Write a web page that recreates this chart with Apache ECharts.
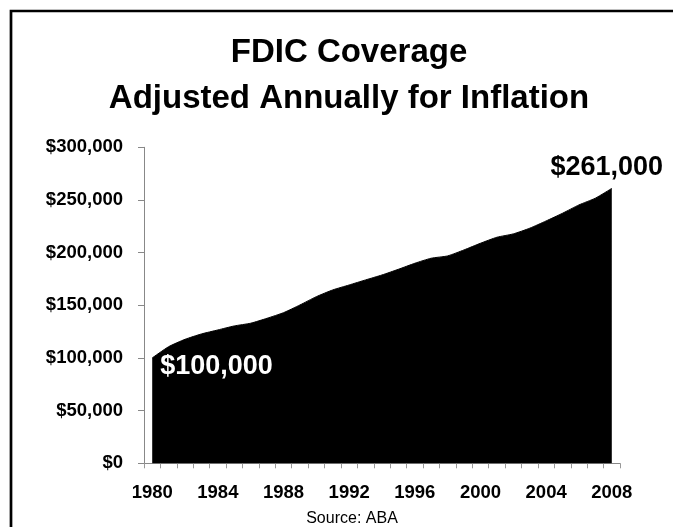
<!DOCTYPE html>
<html>
<head>
<meta charset="utf-8">
<script src="https://cdn.jsdelivr.net/npm/echarts@6/dist/echarts.min.js"></script>
<style>
html,body{margin:0;padding:0;background:#fff;}
#chart{width:673px;height:527px;}
</style>
</head>
<body>
<div id="chart"></div>
<script>
const years = ['1980','1981','1982','1983','1984','1985','1986','1987','1988','1989','1990','1991','1992','1993','1994','1995','1996','1997','1998','1999','2000','2001','2002','2003','2004','2005','2006','2007','2008'];
const coverage = [100000,110700,117700,122800,126600,130400,133000,137700,143000,150300,158200,164600,169300,174100,178800,184200,189900,194700,196900,202600,208900,214600,217800,223200,230100,237400,245300,251700,261000];
const yTicks = [0,50000,100000,150000,200000,250000,300000];
const titleLines = ['FDIC Coverage','Adjusted Annually for Inflation'];
const sourceText = 'Source: ABA';

const FONT = '"Liberation Sans", Arial, sans-serif';
const money = v => '$' + Math.round(v).toLocaleString('en-US');

const chart = echarts.init(document.getElementById('chart'));
chart.setOption({
  backgroundColor: '#fff',
  animation: false,
  title: [{
    text: titleLines.join('\n'),
    left: 344, top: 25, textAlign: 'center',
    textStyle: {fontFamily: FONT, fontWeight: 'bold', fontSize: 33, lineHeight: 46, color: '#000'}
  }, {
    text: sourceText,
    left: 347, top: 506, textAlign: 'center',
    textStyle: {fontFamily: FONT, fontWeight: 'normal', fontSize: 16, color: '#000'}
  }],
  graphic: [{
    type: 'rect', silent: true,
    shape: {x: 11, y: 11, width: 700, height: 600},
    style: {fill: 'none', stroke: '#000', lineWidth: 2.7}
  }],
  grid: {left: 144, right: 53, top: 147.3, bottom: 63.7, containLabel: false},
  xAxis: {
    type: 'category', data: years, boundaryGap: true,
    axisLine: {lineStyle: {color: '#888', width: 1}},
    axisTick: {show: true, interval: 0, length: 5, lineStyle: {color: '#999'}},
    axisLabel: {interval: 3, margin: 20, fontFamily: FONT, fontWeight: 'bold', fontSize: 18.5, color: '#000'},
    splitLine: {show: false}
  },
  yAxis: {
    type: 'value', min: yTicks[0], max: yTicks[yTicks.length-1], interval: yTicks[1]-yTicks[0],
    axisLine: {show: true, lineStyle: {color: '#888', width: 1}},
    axisTick: {show: true, length: 6, lineStyle: {color: '#888'}},
    axisLabel: {margin: 21, fontFamily: FONT, fontWeight: 'bold', fontSize: 18.5, color: '#000', formatter: money},
    splitLine: {show: false}
  },
  series: [{
    type: 'line', data: coverage, smooth: 0.2,
    symbol: 'none',
    lineStyle: {color: '#000', width: 1},
    areaStyle: {color: '#000', opacity: 1},
    markPoint: {
      symbol: 'circle', symbolSize: 1,
      itemStyle: {color: 'rgba(0,0,0,0)'},
      data: [{
        coord: [years[0], coverage[0]],
        label: {show: true, formatter: money(coverage[0]), position: 'inside', align: 'left', verticalAlign: 'middle',
          offset: [8, 9], fontFamily: FONT, fontWeight: 'bold', fontSize: 27, color: '#fff'}
      }, {
        coord: [years[years.length-1], coverage[coverage.length-1]],
        label: {show: true, formatter: money(coverage[coverage.length-1]), position: 'inside', align: 'center', verticalAlign: 'middle',
          offset: [-5, -21], fontFamily: FONT, fontWeight: 'bold', fontSize: 27, color: '#000'}
      }]
    }
  }]
});
</script>
</body>
</html>
